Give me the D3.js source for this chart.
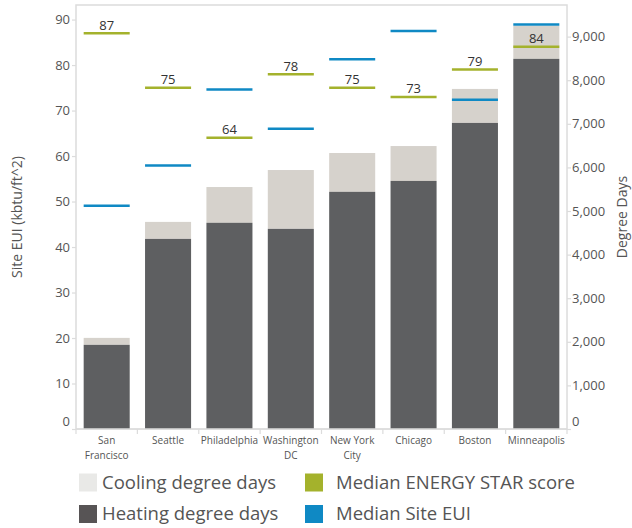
<!DOCTYPE html>
<html>
<head>
<meta charset="utf-8">
<script src="https://cdn.jsdelivr.net/npm/d3@7"></script>
<style>
  html, body { margin: 0; padding: 0; background: #fff; }
  svg { display: block; font-family: "Open Sans", sans-serif; }
</style>
</head>
<body>
<svg id="chart" width="632" height="528"></svg>
<script>
// ---- data ----
const cities = ["San Francisco", "Seattle", "Philadelphia", "Washington DC", "New York City", "Chicago", "Boston", "Minneapolis"];
const cityLabels = [["San", "Francisco"], ["Seattle"], ["Philadelphia"], ["Washington", "DC"], ["New York", "City"], ["Chicago"], ["Boston"], ["Minneapolis"]];
const heatingDD = [1930, 4360, 4730, 4590, 5440, 5690, 7020, 8490];
const coolingDD = [160, 390, 820, 1350, 890, 800, 780, 760];
const energyStar = [87, 75, 64, 78, 75, 73, 79, 84];
const siteEUI = [49.1, 57.9, 74.6, 66.0, 81.3, 87.5, 72.4, 88.9];
const leftTicks = [0, 10, 20, 30, 40, 50, 60, 70, 80, 90];
const rightTicks = [0, 1000, 2000, 3000, 4000, 5000, 6000, 7000, 8000, 9000];
const legendItems = [
  { label: "Cooling degree days", color: "#e9e9e7" },
  { label: "Heating degree days", color: "#575455" },
  { label: "Median ENERGY STAR score", color: "#a4b22c" },
  { label: "Median Site EUI", color: "#0f89c4" }
];

// ---- layout ----
const svg = d3.select("#chart");
const L = 76, R = 567, T = 5, B = 429;
const C = { heat: "#5e5f61", cool: "#d6d2cc", green: "#a4b22c", blue: "#0f89c4", text: "#555", frame: "#dcdcdc" };

const x = d3.scaleBand().domain(cities).range([L, R]).paddingInner(0.25).paddingOuter(0.125);
const yL = d3.scaleLinear().domain([0, 93.2]).range([B, T]);
const yR = d3.scaleLinear().domain([0, 9725]).range([B, T]);

// frame
svg.append("rect").attr("x", L).attr("y", T).attr("width", R - L).attr("height", B - T)
  .attr("fill", "none").attr("stroke", C.frame).attr("stroke-width", 1.5);

// bars
const rows = cities.map((c, i) => ({ city: c, heat: heatingDD[i], cool: coolingDD[i], score: energyStar[i], eui: siteEUI[i] }));
svg.append("g").selectAll("rect").data(rows).join("rect")
  .attr("x", d => x(d.city)).attr("width", x.bandwidth())
  .attr("y", d => yR(d.heat + d.cool)).attr("height", d => yR(d.heat) - yR(d.heat + d.cool))
  .attr("fill", C.cool);
svg.append("g").selectAll("rect").data(rows).join("rect")
  .attr("x", d => x(d.city)).attr("width", x.bandwidth())
  .attr("y", d => yR(d.heat)).attr("height", d => yR(0) - yR(d.heat))
  .attr("fill", C.heat);

// lines
svg.append("g").selectAll("line").data(rows).join("line")
  .attr("x1", d => x(d.city)).attr("x2", d => x(d.city) + x.bandwidth())
  .attr("y1", d => yL(d.eui)).attr("y2", d => yL(d.eui))
  .attr("stroke", C.blue).attr("stroke-width", 2.5);
svg.append("g").selectAll("line").data(rows).join("line")
  .attr("x1", d => x(d.city)).attr("x2", d => x(d.city) + x.bandwidth())
  .attr("y1", d => yL(d.score)).attr("y2", d => yL(d.score))
  .attr("stroke", C.green).attr("stroke-width", 2.5);
svg.append("g").selectAll("text").data(rows).join("text")
  .attr("x", d => x(d.city) + x.bandwidth() / 2).attr("y", d => yL(d.score) - 3.5)
  .attr("text-anchor", "middle").attr("font-size", 13).attr("fill", "#333")
  .text(d => d.score);

// left axis
const gL = svg.append("g").attr("transform", `translate(${L},0)`)
  .call(d3.axisLeft(yL).tickValues(leftTicks).tickSize(4).tickPadding(2));
// right axis
const gR = svg.append("g").attr("transform", `translate(${R},0)`)
  .call(d3.axisRight(yR).tickValues(rightTicks).tickSize(4).tickPadding(1).tickFormat(d3.format(",")));
[gL, gR].forEach(g => {
  g.select(".domain").remove();
  g.selectAll(".tick line").attr("stroke", C.frame).attr("stroke-width", 1.2);
  g.selectAll(".tick text").attr("font-size", 13).attr("fill", C.text).attr("font-family", "Open Sans, sans-serif");
  g.selectAll(".tick").filter(d => d === 0).select("text").attr("dy", "-0.3em");
});

// x axis
const gX = svg.append("g").attr("transform", `translate(0,${B})`);
gX.append("line").attr("x1", L).attr("x2", R).attr("stroke", C.frame).attr("stroke-width", 1.5);
const step = x.step();
d3.range(cities.length + 1).forEach(k => {
  const xx = L + k * step;
  gX.append("line").attr("x1", xx).attr("x2", xx).attr("y1", 0).attr("y2", 5)
    .attr("stroke", C.frame).attr("stroke-width", 1.2);
});
gX.selectAll("text.cl").data(rows).join("text").attr("class", "cl")
  .attr("x", d => x(d.city) + x.bandwidth() / 2).attr("y", 15)
  .attr("text-anchor", "middle").attr("font-size", 10).attr("fill", C.text)
  .each(function (d, i) {
    const t = d3.select(this);
    cityLabels[i].forEach((ln, j) => {
      t.append("tspan").attr("x", x(d.city) + x.bandwidth() / 2).attr("dy", j === 0 ? 0 : 15).text(ln);
    });
  });

// axis titles
svg.append("text").attr("transform", `translate(22,${(T + B) / 2}) rotate(-90)`)
  .attr("text-anchor", "middle").attr("font-size", 14).attr("fill", C.text)
  .text("Site EUI (kbtu/ft^2)");
svg.append("text").attr("transform", `translate(627,${(T + B) / 2}) rotate(-90)`)
  .attr("text-anchor", "middle").attr("font-size", 14).attr("fill", C.text)
  .text("Degree Days");

// legend
const legPos = [[79, 473.5, 102], [79, 505, 102], [305, 473.5, 336], [305, 505, 336]];
const lg = svg.append("g").selectAll("g").data(legendItems).join("g");
lg.append("rect")
  .attr("x", (d, i) => legPos[i][0]).attr("y", (d, i) => legPos[i][1])
  .attr("width", 18).attr("height", 18).attr("fill", d => d.color);
lg.append("text")
  .attr("x", (d, i) => legPos[i][2]).attr("y", (d, i) => legPos[i][1] + 15.2)
  .attr("font-size", 18.5).attr("fill", C.text).text(d => d.label);
</script>
</body>
</html>
